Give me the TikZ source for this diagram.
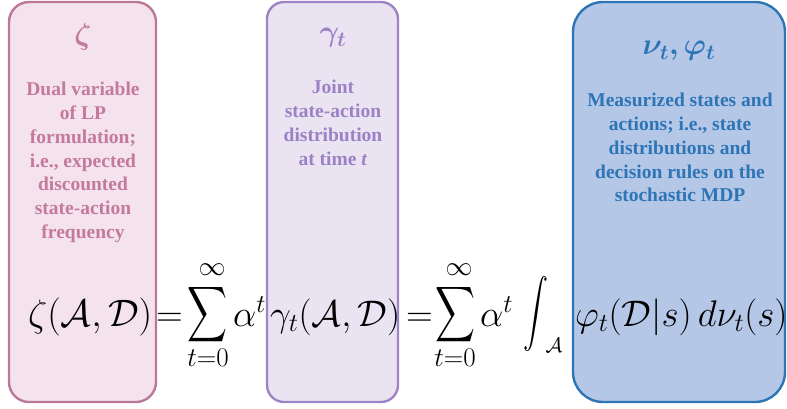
\RequirePackage{fix-cm}
\documentclass[tikz,border=0pt]{standalone}
\usepackage{amsmath,bm}
\usepackage{fontspec}
\setmainfont{Liberation Serif}
\definecolor{pinkb}{RGB}{188,120,152}
\definecolor{pinkf}{RGB}{244,227,236}
\definecolor{pinkt}{RGB}{196,122,156}
\definecolor{purpb}{RGB}{158,132,196}
\definecolor{purpf}{RGB}{233,227,242}
\definecolor{purpt}{RGB}{156,130,196}
\definecolor{blueb}{RGB}{46,117,182}
\definecolor{bluef}{RGB}{180,199,231}
\definecolor{bluet}{RGB}{46,117,182}
\tikzset{
  panel/.style={line width=2.4pt},
  desc/.style={align=center, font=\fontsize{19.5}{23.8}\selectfont\bfseries, inner sep=0pt, anchor=north},
  ttl/.style={inner sep=0pt, font=\fontsize{30}{34}\selectfont},
  eq/.style={inner sep=0pt, anchor=base west, font=\fontsize{37}{44}\selectfont},
  big/.style={inner sep=0pt, anchor=center},
  lim/.style={inner sep=0pt, anchor=center, font=\fontsize{27}{30}\selectfont},
}
\begin{document}
\begin{tikzpicture}[x=1pt,y=-1pt]
\useasboundingbox (0,0) rectangle (787,408);
\draw[panel, draw=pinkb, fill=pinkf, rounded corners=20pt] (9,2) rectangle (156,402);
\draw[panel, draw=purpb, fill=purpf, rounded corners=17pt] (267,2) rectangle (398,402);
\draw[panel, draw=blueb, fill=bluef, rounded corners=30pt] (573,2) rectangle (785,402);

\node[ttl, text=pinkt] (t1) at (83,37) {$\bm{\zeta}$};
\node[ttl, text=purpt] (t2) at (333,38) {$\bm{\gamma_t}$};
\node[ttl, text=bluet] (t3) at (679,51) {$\bm{\nu_t,\varphi_t}$};

\node[desc, text=pinkt] (d1) at (83,82) {Dual variable\\of LP\\formulation;\\i.e., expected\\discounted\\state-action\\frequency};
\node[desc, text=purpt] (d2) at (333,80) {Joint\\state-action\\distribution\\at time \textit{t}};
\node[desc, text=bluet] (d3) at (680,93) {Measurized states and\\actions; i.e., state\\distributions and\\decision rules on the\\stochastic MDP};

\node[eq] (e1) at (28,326) {\resizebox{124pt}{!}{$\zeta(\mathcal{A},\mathcal{D})$}};
\node[eq] (e2) at (156,326) {$=$};
\node[big] (s1) at (208,315) {\resizebox*{40pt}{62pt}{$\displaystyle\sum$}};
\node[lim] (s1u) at (212,270) {$\infty$};
\node[lim] (s1l) at (208,358) {$t{=}0$};
\node[eq] (e4) at (233,326) {$\alpha^t$};
\node[eq] (e5) at (270,326) {$\gamma_t(\mathcal{A},\mathcal{D})$};
\node[eq] (e6) at (406,326) {$=$};
\node[big] (s2) at (455,315) {\resizebox*{40pt}{62pt}{$\displaystyle\sum$}};
\node[lim] (s2u) at (459,270) {$\infty$};
\node[lim] (s2l) at (455,358) {$t{=}0$};
\node[eq] (e8) at (480,326) {$\alpha^t$};
\node[big] (i1) at (536,314) {\resizebox*{25pt}{75pt}{$\displaystyle\int$}};
\node[lim, font=\fontsize{21}{24}\selectfont] (i1l) at (554,345) {$\mathcal{A}$};
\node[eq] (e10) at (575,326) {$\varphi_t(\mathcal{D}|s)\,d\nu_t(s)$};
\end{tikzpicture}
\end{document}
